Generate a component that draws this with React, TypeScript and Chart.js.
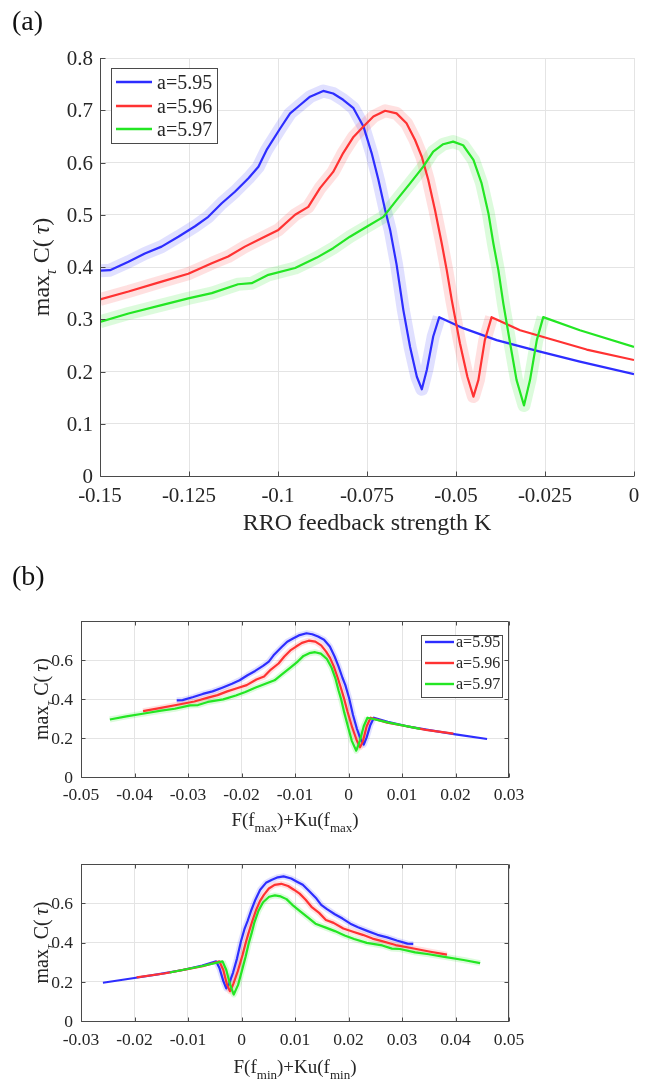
import { useEffect, useRef } from 'react';
import { Chart, registerables } from 'chart.js';
Chart.register(...registerables);

const FONT = '"Liberation Serif", "Times New Roman", serif';
const TEXT = '#262626';
const AXIS = '#4a4a4a';
const GRID = '#e4e4e4';

const seriesNames = ['a=5.95', 'a=5.96', 'a=5.97'];
const lineColors = ['rgb(45,45,255)', 'rgb(255,50,50)', 'rgb(35,230,35)'];
const bandColors = ['rgba(70,70,255,0.17)', 'rgba(255,70,70,0.17)', 'rgba(50,230,50,0.17)'];

// RRO feedback strength K and max_tau C(tau) for each series
const kBlue = [-0.15, -0.1472, -0.142, -0.1374, -0.1327, -0.128, -0.1233, -0.1196, -0.1158, -0.1121, -0.1083, -0.1055, -0.1032, -0.0994, -0.0966, -0.0938, -0.091, -0.0873, -0.0845, -0.0817, -0.0788, -0.076, -0.0737, -0.0718, -0.0699, -0.0685, -0.0667, -0.0648, -0.0629, -0.061, -0.0596, -0.0582, -0.0564, -0.0547, -0.048, -0.0386, -0.0264, -0.0152, 0];
const cBlue = [0.393, 0.394, 0.41, 0.426, 0.439, 0.458, 0.478, 0.496, 0.522, 0.544, 0.57, 0.592, 0.624, 0.665, 0.694, 0.71, 0.726, 0.737, 0.732, 0.72, 0.704, 0.669, 0.618, 0.567, 0.509, 0.471, 0.405, 0.318, 0.247, 0.19, 0.166, 0.203, 0.267, 0.304, 0.283, 0.26, 0.238, 0.219, 0.195];

const kRed = [-0.15, -0.142, -0.1327, -0.1252, -0.1186, -0.114, -0.1093, -0.1046, -0.0999, -0.0952, -0.0915, -0.0882, -0.0845, -0.0817, -0.0788, -0.076, -0.0732, -0.0699, -0.0667, -0.0639, -0.0615, -0.0596, -0.0578, -0.0559, -0.054, -0.0526, -0.0512, -0.0489, -0.0468, -0.0451, -0.0437, -0.0419, -0.04, -0.032, -0.0245, -0.0133, 0];
const cRed = [0.338, 0.353, 0.372, 0.387, 0.407, 0.42, 0.439, 0.455, 0.471, 0.5, 0.515, 0.551, 0.582, 0.618, 0.649, 0.669, 0.688, 0.699, 0.694, 0.675, 0.643, 0.611, 0.567, 0.509, 0.445, 0.394, 0.337, 0.254, 0.19, 0.152, 0.184, 0.26, 0.304, 0.279, 0.264, 0.242, 0.222];

const kGreen = [-0.15, -0.142, -0.1327, -0.1252, -0.1186, -0.1112, -0.1074, -0.1027, -0.0952, -0.0891, -0.0845, -0.0798, -0.0751, -0.0704, -0.0667, -0.0629, -0.0592, -0.0564, -0.0536, -0.0508, -0.048, -0.0451, -0.0428, -0.0409, -0.0395, -0.0381, -0.0367, -0.0348, -0.033, -0.0309, -0.0292, -0.0273, -0.0255, -0.0152, 0];
const cGreen = [0.295, 0.311, 0.327, 0.34, 0.35, 0.367, 0.369, 0.385, 0.398, 0.418, 0.436, 0.458, 0.477, 0.496, 0.528, 0.56, 0.592, 0.621, 0.635, 0.64, 0.633, 0.605, 0.56, 0.503, 0.445, 0.394, 0.33, 0.254, 0.184, 0.135, 0.184, 0.26, 0.304, 0.279, 0.247];

// shaded spread band is visible up to the post-dip local maximum
const bandEndK = [-0.0547, -0.04, -0.0255];

// axis mapping of K onto F(f_max)+Ku(f_max)
const fmaxSlope = 0.3867;
const fmaxOffset = [0.0259, 0.0196, 0.0134];

const xTicksA = [-0.15, -0.125, -0.1, -0.075, -0.05, -0.025, 0];
const xLabelsA = ['-0.15', '-0.125', '-0.1', '-0.075', '-0.05', '-0.025', '0'];
const yTicksA = [0, 0.1, 0.2, 0.3, 0.4, 0.5, 0.6, 0.7, 0.8];
const yLabelsA = ['0', '0.1', '0.2', '0.3', '0.4', '0.5', '0.6', '0.7', '0.8'];
const xTicksB1 = [-0.05, -0.04, -0.03, -0.02, -0.01, 0, 0.01, 0.02, 0.03];
const xLabelsB1 = ['-0.05', '-0.04', '-0.03', '-0.02', '-0.01', '0', '0.01', '0.02', '0.03'];
const xTicksB2 = [-0.03, -0.02, -0.01, 0, 0.01, 0.02, 0.03, 0.04, 0.05];
const xLabelsB2 = ['-0.03', '-0.02', '-0.01', '0', '0.01', '0.02', '0.03', '0.04', '0.05'];
const yTicksB = [0, 0.2, 0.4, 0.6];
const yLabelsB = ['0', '0.2', '0.4', '0.6'];

const seriesK = [kBlue, kRed, kGreen];
const seriesC = [cBlue, cRed, cGreen];

type Seg = { t: string; sub?: boolean; it?: boolean };

function segFont(s: Seg, size: number) {
  const sz = s.sub ? Math.round(size * 0.66) : size;
  return `${s.it ? 'italic ' : ''}${sz}px ${FONT}`;
}

function drawSegs(ctx: CanvasRenderingContext2D, segs: Seg[], size: number, x: number, y: number) {
  const ws = segs.map((s) => {
    ctx.font = segFont(s, size);
    return ctx.measureText(s.t).width;
  });
  const total = ws.reduce((a, b) => a + b, 0);
  let cx = x - total / 2;
  ctx.textAlign = 'left';
  ctx.textBaseline = 'alphabetic';
  segs.forEach((s, i) => {
    ctx.font = segFont(s, size);
    ctx.fillText(s.t, cx, s.sub ? y + size * 0.3 : y);
    cx += ws[i];
  });
}

const matlabPlugin = {
  id: 'matlab',
  afterDraw(chart: any, _args: any, o: any) {
    const ctx: CanvasRenderingContext2D = chart.ctx;
    const { left, right, top, bottom } = chart.chartArea;
    const xs = chart.scales.x;
    const ys = chart.scales.y;
    ctx.save();
    ctx.strokeStyle = AXIS;
    ctx.lineWidth = 1;
    ctx.beginPath();
    const L = Math.round(left) + 0.5;
    const B = Math.round(bottom) + 0.5;
    const T = Math.round(top) + 0.5;
    const R = Math.round(right) - 0.5;
    ctx.moveTo(L, T - 0.5);
    ctx.lineTo(L, B);
    ctx.lineTo(R + 0.5, B);
    if (o.box) {
      ctx.moveTo(L, T);
      ctx.lineTo(R, T);
      ctx.lineTo(R, B);
    }
    // tick marks
    o.xTicks.forEach((v: number) => {
      const px = Math.round(xs.getPixelForValue(v)) + 0.5;
      ctx.moveTo(px, B);
      ctx.lineTo(px, B - o.tickLen);
      if (o.box) {
        ctx.moveTo(px, T);
        ctx.lineTo(px, T + o.tickLen);
      }
    });
    o.yTicks.forEach((v: number) => {
      const py = Math.round(ys.getPixelForValue(v)) + 0.5;
      ctx.moveTo(L, py);
      ctx.lineTo(L + o.tickLen, py);
      if (o.box) {
        ctx.moveTo(R, py);
        ctx.lineTo(R - o.tickLen, py);
      }
    });
    ctx.stroke();

    // tick labels
    ctx.fillStyle = TEXT;
    ctx.font = `${o.tickSize}px ${FONT}`;
    ctx.textBaseline = 'alphabetic';
    ctx.textAlign = 'center';
    o.xTicks.forEach((v: number, i: number) => {
      ctx.fillText(o.xLabels[i], xs.getPixelForValue(v), bottom + o.xLabelDy);
    });
    ctx.textAlign = 'right';
    o.yTicks.forEach((v: number, i: number) => {
      ctx.fillText(o.yLabels[i], left - o.yLabelGap, ys.getPixelForValue(v) + o.tickSize * 0.34);
    });

    // axis titles
    drawSegs(ctx, o.xTitle, o.titleSize, (left + right) / 2, o.xTitleY);
    ctx.save();
    ctx.translate(o.yTitleX, (top + bottom) / 2);
    ctx.rotate(-Math.PI / 2);
    drawSegs(ctx, o.yTitle, o.yTitleSize, 0, 0);
    ctx.restore();

    // panel label
    if (o.panel) {
      ctx.font = `${o.panel.size}px ${FONT}`;
      ctx.textAlign = 'left';
      ctx.textBaseline = 'middle';
      ctx.fillStyle = '#111';
      ctx.fillText(o.panel.t, o.panel.x, o.panel.y);
    }

    // legend
    if (o.legend) {
      const g = o.legend;
      ctx.fillStyle = '#ffffff';
      ctx.fillRect(g.x, g.y, g.w, g.h);
      ctx.strokeStyle = AXIS;
      ctx.lineWidth = 1;
      ctx.strokeRect(g.x + 0.5, g.y + 0.5, g.w, g.h);
      ctx.font = `${g.size}px ${FONT}`;
      ctx.textAlign = 'left';
      ctx.textBaseline = 'alphabetic';
      seriesNames.forEach((name, i) => {
        const ry = g.rows[i];
        ctx.strokeStyle = lineColors[i];
        ctx.lineWidth = 2.4;
        ctx.beginPath();
        ctx.moveTo(g.x1, ry);
        ctx.lineTo(g.x2, ry);
        ctx.stroke();
        ctx.fillStyle = TEXT;
        ctx.fillText(name, g.tx, ry + g.size * 0.34);
      });
    }
    ctx.restore();
  },
};

const yTitle: Seg[] = [{ t: 'max' }, { t: 'τ', sub: true, it: true }, { t: ' C(\u2009' }, { t: 'τ', it: true }, { t: ')' }];

function buildDatasets(mapX: (k: number, i: number) => number, bandW: number) {
  const lines = seriesK.map((ks, i) => ({
    label: seriesNames[i],
    data: ks.map((k, j) => ({ x: mapX(k, i), y: seriesC[i][j] })),
    borderColor: lineColors[i],
    borderWidth: 2.2,
    pointRadius: 0,
    tension: 0,
    fill: false,
    borderJoinStyle: 'round',
    order: 2 - i,
  }));
  const bands = seriesK.map((ks, i) => ({
    label: seriesNames[i] + ' spread',
    data: ks
      .map((k, j) => ({ x: mapX(k, i), y: seriesC[i][j] }))
      .filter((_p, j) => ks[j] <= bandEndK[i]),
    borderColor: bandColors[i],
    borderWidth: bandW,
    pointRadius: 0,
    tension: 0,
    fill: false,
    borderJoinStyle: 'round',
    borderCapStyle: 'butt',
    order: 5 - i,
  }));
  return [...lines, ...bands];
}

function makeConfig(p: any): any {
  return {
    type: 'line',
    data: { datasets: buildDatasets(p.mapX, p.bandW) },
    options: {
      animation: false,
      responsive: false,
      devicePixelRatio: 1,
      events: [],
      layout: { padding: p.padding, autoPadding: false },
      plugins: { legend: { display: false }, tooltip: { enabled: false }, matlab: p.deco },
      scales: {
        x: {
          type: 'linear',
          min: p.xMin,
          max: p.xMax,
          grid: { color: GRID, drawTicks: false, lineWidth: 1 },
          border: { display: false },
          ticks: { display: false },
          afterBuildTicks: (s: any) => {
            s.ticks = p.deco.xTicks.map((v: number) => ({ value: v }));
          },
          afterFit: (s: any) => {
            s.height = 0;
            s.paddingLeft = 0;
            s.paddingRight = 0;
          },
        },
        y: {
          type: 'linear',
          min: p.yMin,
          max: p.yMax,
          grid: { color: GRID, drawTicks: false, lineWidth: 1 },
          border: { display: false },
          ticks: { display: false },
          afterBuildTicks: (s: any) => {
            s.ticks = p.deco.yTicks.map((v: number) => ({ value: v }));
          },
          afterFit: (s: any) => {
            s.width = 0;
            s.paddingTop = 0;
            s.paddingBottom = 0;
          },
        },
      },
    },
    plugins: [matlabPlugin],
  };
}

const toFmax = (k: number, i: number) => fmaxSlope * k + fmaxOffset[i];
const toFmin = (k: number, i: number) => -(fmaxSlope * k + fmaxOffset[i]);

const panelA = {
  top: 0,
  height: 545,
  padding: { left: 100, right: 17, top: 58, bottom: 69 },
  xMin: -0.15,
  xMax: 0,
  yMin: 0,
  yMax: 0.8,
  mapX: (k: number) => k,
  bandW: 13,
  deco: {
    box: false,
    tickLen: 5,
    tickSize: 21,
    xTicks: xTicksA,
    xLabels: xLabelsA,
    yTicks: yTicksA,
    yLabels: yLabelsA,
    xLabelDy: 26,
    yLabelGap: 7,
    titleSize: 24,
    yTitleSize: 24,
    xTitle: [{ t: 'RRO feedback strength K' }],
    xTitleY: 530,
    yTitle,
    yTitleX: 49,
    panel: { t: '(a)', x: 12, y: 23, size: 28 },
    legend: { x: 111, y: 68, w: 106, h: 75, x1: 116, x2: 152, tx: 157, rows: [82, 106, 129], size: 20 },
  },
};

const panelB1 = {
  top: 545,
  height: 290,
  padding: { left: 81, right: 142, top: 76, bottom: 58 },
  xMin: -0.05,
  xMax: 0.03,
  yMin: 0,
  yMax: 0.8,
  mapX: toFmax,
  bandW: 6,
  deco: {
    box: true,
    tickLen: 4,
    tickSize: 17.5,
    xTicks: xTicksB1,
    xLabels: xLabelsB1,
    yTicks: yTicksB,
    yLabels: yLabelsB,
    xLabelDy: 23,
    yLabelGap: 8,
    titleSize: 19,
    yTitleSize: 20,
    xTitle: [{ t: 'F(f' }, { t: 'max', sub: true }, { t: ')+Ku(f' }, { t: 'max', sub: true }, { t: ')' }],
    xTitleY: 281,
    yTitle,
    yTitleX: 48,
    panel: { t: '(b)', x: 12, y: 33, size: 28 },
    legend: { x: 421, y: 90, w: 81, h: 62, x1: 425, x2: 454, tx: 456, rows: [97, 118, 139], size: 16 },
  },
};

const panelB2 = {
  top: 835,
  height: 247,
  padding: { left: 81, right: 142, top: 29, bottom: 61 },
  xMin: -0.03,
  xMax: 0.05,
  yMin: 0,
  yMax: 0.8,
  mapX: toFmin,
  bandW: 6,
  deco: {
    box: true,
    tickLen: 4,
    tickSize: 17.5,
    xTicks: xTicksB2,
    xLabels: xLabelsB2,
    yTicks: yTicksB,
    yLabels: yLabelsB,
    xLabelDy: 24,
    yLabelGap: 8,
    titleSize: 19,
    yTitleSize: 20,
    xTitle: [{ t: 'F(f' }, { t: 'min', sub: true }, { t: ')+Ku(f' }, { t: 'min', sub: true }, { t: ')' }],
    xTitleY: 238,
    yTitle,
    yTitleX: 48,
  },
};

function Panel({ cfg }: { cfg: any }) {
  const ref = useRef<HTMLCanvasElement>(null);
  useEffect(() => {
    const chart = new Chart(ref.current as HTMLCanvasElement, makeConfig(cfg));
    return () => chart.destroy();
  }, [cfg]);
  return (
    <canvas
      ref={ref}
      width={651}
      height={cfg.height}
      style={{ position: 'absolute', left: 0, top: cfg.top, width: 651, height: cfg.height }}
    />
  );
}

export default function App() {
  return (
    <div style={{ position: 'absolute', left: 0, top: 0, width: 651, height: 1082, background: '#ffffff' }}>
      <Panel cfg={panelA} />
      <Panel cfg={panelB1} />
      <Panel cfg={panelB2} />
    </div>
  );
}
